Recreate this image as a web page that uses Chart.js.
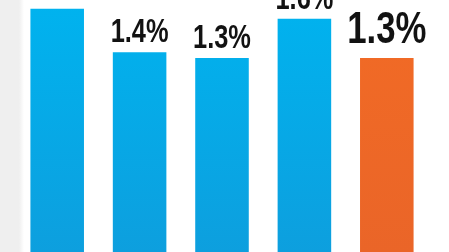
<!DOCTYPE html>
<html>
<head>
<meta charset="utf-8">
<script src="https://cdn.jsdelivr.net/npm/chart.js@4/dist/chart.umd.min.js"></script>
<style>
  html, body { margin: 0; padding: 0; background: #fff; }
  body { background: linear-gradient(to right, #efefef 0, #efefef 19px, #fff 24px); }
  canvas { display: block; }
</style>
</head>
<body>
<canvas id="chart" width="449" height="252"></canvas>
<script>
const categories  = ["1", "2", "3", "4", "5"];
const values      = [1.68, 1.38, 1.34, 1.61, 1.34];
const valueLabels = ["1.7%", "1.4%", "1.3%", "1.6%", "1.3%"];
const highlight   = 4;

function barFill(ctx) {
  const area = ctx.chart.chartArea;
  const hot = ctx.dataIndex === highlight;
  if (!area) return hot ? "#ef6a26" : "#07aae9";
  const g = ctx.chart.ctx.createLinearGradient(0, area.top, 0, area.bottom);
  if (hot) {
    g.addColorStop(0, "#f26b25");
    g.addColorStop(1, "#ea6528");
  } else {
    g.addColorStop(0, "#00b3ef");
    g.addColorStop(1, "#0d9fde");
  }
  return g;
}

// condensed bold labels: squeeze a normal bold face horizontally
const valueLabelPlugin = {
  id: "valueLabels",
  afterDatasetsDraw(chart) {
    const ctx = chart.ctx;
    const meta = chart.getDatasetMeta(0);
    meta.data.forEach((bar, i) => {
      const hot = i === highlight;
      ctx.save();
      ctx.fillStyle = "#121212";
      ctx.textAlign = "center";
      ctx.textBaseline = "alphabetic";
      ctx.font = (hot ? "bold 44px" : "bold 33px") + ' "Liberation Sans", Arial, sans-serif';
      ctx.translate(bar.x, bar.y - (hot ? 15 : 10));
      ctx.scale(hot ? 0.79 : 0.77, 1);
      ctx.fillText(valueLabels[i], 0, 0);
      ctx.restore();
    });
  },
};

new Chart(document.getElementById("chart"), {
  type: "bar",
  data: {
    labels: categories,
    datasets: [{
      data: values,
      backgroundColor: barFill,
      borderWidth: 0,
      categoryPercentage: 1,
      barPercentage: 0.65,
    }],
  },
  options: {
    responsive: false,
    animation: false,
    layout: { padding: { left: 16, right: 21, top: 0, bottom: 0 } },
    plugins: {
      legend: { display: false },
      tooltip: { enabled: false },
    },
    scales: {
      x: { display: false },
      y: { display: false, min: 0, max: 1.74 },
    },
  },
  plugins: [valueLabelPlugin],
});
</script>
</body>
</html>
